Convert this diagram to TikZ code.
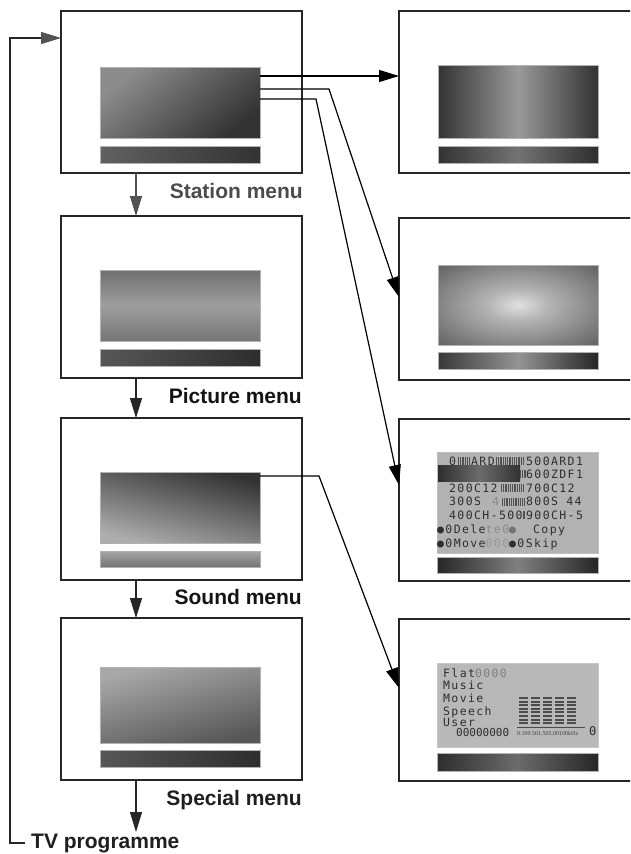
\documentclass[tikz,border=0pt]{standalone}
\usepackage{fontspec}
\setmainfont{Liberation Sans}
\newfontfamily\lcdfont[LetterSpace=12]{DejaVu Sans Mono}
\newfontfamily\lcdplain{DejaVu Sans Mono}
\newfontfamily\tinyserif{Liberation Serif}
\usetikzlibrary{arrows.meta,calc}
\pgfdeclareradialshading{glow}{\pgfpoint{0bp}{0bp}}{color(0bp)=(black!12); color(10bp)=(black!30); color(50bp)=(black!80)}
\newcommand\lcdstripes[3]{\foreach \k in {0,...,#2} \fill[black!68] ({#1+1.8*\k},#3) rectangle ++(0.9,-8);}
\begin{document}
\begin{tikzpicture}[x=1pt,y=-1pt,
  box/.style={draw=black!85, line width=1.4pt, fill=white, minimum width=241pt, minimum height=162pt, inner sep=0pt, outer sep=0pt, anchor=north west},
  rbox/.style={box, minimum width=260pt},
  scr/.style={draw=black!30, line width=0.5pt, minimum width=160pt, inner sep=0pt, outer sep=0pt, anchor=north west},
  lbl/.style={font=\bfseries\fontsize{21}{24}\selectfont, inner sep=0pt, anchor=base east},
  conn/.style={draw=black, line width=1.2pt, -{Triangle[length=20pt,width=12pt]}},
  varrow/.style={draw=black!85, line width=1.2pt, -{Triangle[length=20pt,width=12pt]}},
  lcd/.style={font=\lcdfont\fontsize{11.5}{12}\selectfont, text=black!82, inner sep=0pt, anchor=base west},
  lcdl/.style={lcd, text=black!45}
]
\clip (0,0) rectangle (630,854);
\fill[white] (0,0) rectangle (630,854);

% ---------- left column ----------
\node[box] (b1) at (61,11) {};
\node[box] (b2) at (61,216) {};
\node[box] (b3) at (61,418) {};
\node[box] (b4) at (61,618) {};

\node[scr, minimum height=71pt, top color=black!45, bottom color=black!80, shading angle=40] (s1) at (100,67) {};
\node[scr, minimum height=17pt, left color=black!62, right color=black!80] (t1) at (100,146) {};
\node[scr, minimum height=71pt, top color=black!56, bottom color=black!54, middle color=black!38] (s2) at (100,270) {};
\node[scr, minimum height=17pt, left color=black!66, right color=black!82] (t2) at (100,349) {};
\node[scr, minimum height=71pt, top color=black!80, bottom color=black!32, shading angle=-15] (s3) at (100,472) {};
\node[scr, minimum height=16pt, top color=black!35, bottom color=black!55] (t3) at (100,551) {};
\node[scr, minimum height=76pt, top color=black!34, bottom color=black!66, shading angle=15] (s4) at (100,667) {};
\node[scr, minimum height=17pt, left color=black!66, right color=black!82] (t4) at (100,750) {};

\node[lbl, text=black!70] (l1) at (303,198) {Station menu};
\node[lbl, text=black!92] (l2) at (302,403) {Picture menu};
\node[lbl, text=black!92] (l3) at (302,604) {Sound menu};
\node[lbl, text=black!88] (l4) at (302,805) {Special menu};
\node[font=\bfseries\fontsize{21}{24}\selectfont, inner sep=0pt, anchor=base west, text=black!88] (tv) at (31,848) {TV programme};

\coordinate (ax) at (136,0);
\coordinate (tvtop) at (136,832);
\draw[varrow, draw=black!68] (b1.south -| ax) -- (b2.north -| ax);
\draw[varrow] (b2.south -| ax) -- (b3.north -| ax);
\draw[varrow] (b3.south -| ax) -- (b4.north -| ax);
\draw[varrow] (b4.south -| ax) -- (tvtop);

\coordinate (fbx) at (10,38);
\draw[draw=black!85, line width=1.2pt, -{Triangle[length=20pt,width=12pt,color=black!68]}]
  ($(tv.west)+(-6,0)$) -| (fbx) -- (b1.west |- fbx);

% ---------- right column ----------
\node[rbox] (r1) at (399,11) {};
\node[rbox] (r2) at (399,218) {};
\node[rbox] (r3) at (399,419) {};
\node[rbox] (r4) at (399,619) {};

\node[scr, minimum height=73pt, left color=black!80, right color=black!80, middle color=black!40] (q1) at (438,65) {};
\node[scr, minimum height=17pt, left color=black!80, right color=black!82, middle color=black!55] (u1) at (438,146) {};
\node[scr, minimum height=80pt, shading=glow] (q2) at (438,265) {};
\node[scr, minimum height=17pt, left color=black!78, right color=black!85, middle color=black!42] (u2) at (438,352) {};

\node[scr, minimum width=161pt, minimum height=101pt, fill=black!30, draw=black!25] (q3) at (437,452) {};
\node[scr, minimum width=161pt, minimum height=16pt, left color=black!85, right color=black!85, middle color=black!50] (u3) at (437,557) {};
\node[scr, minimum width=161pt, minimum height=84pt, fill=black!28, draw=black!22] (q4) at (437,663) {};
\node[scr, minimum width=161pt, minimum height=18pt, left color=black!82, right color=black!85, middle color=black!58] (u4) at (437,753) {};

% station list LCD
\node[lcd] at (449,465) {0};
\lcdstripes{458}{6}{465}
\node[lcd] at (471,465) {ARD};
\lcdstripes{496}{15}{465}
\node[lcd] at (526,465) {500ARD1};

\shade[left color=black!82, right color=black!80, middle color=black!58] (438,465) rectangle (520,481);
\lcdstripes{520}{3}{478}
\node[lcd] at (526,478) {600ZDF1};

\node[lcd] at (449,492) {200C12};
\lcdstripes{501}{12}{492}
\node[lcd] at (526,492) {700C12};

\node[lcd] at (449,505.5) {300S};
\node[lcdl] at (492,505.5) {4};
\lcdstripes{502}{12}{505.5}
\node[lcd] at (526,505.5) {800S 44};

\node[lcd] at (449,519) {400CH-500};
\lcdstripes{522.5}{1}{519}
\node[lcd] at (526,519) {900CH-5};

\node[lcd] (del) at (437,533) {●0Dele\textcolor{black!45}{te0}\textcolor{black!55}{●}};
\node[lcd] at (533,533) {Copy};
\node[lcd] (mov) at (437,547) {●0Move\textcolor{black!40}{000}●0Skip};

% sound LCD
\node[lcd] at (443,677) {Flat\textcolor{black!50}{0000}};
\node[lcd] at (443,689.5) {Music};
\node[lcd] at (443,702) {Movie};
\node[lcd] at (443,715) {Speech};
\node[lcd] at (443,726.5) {User};
\node[lcd, font=\lcdplain\fontsize{11}{11}\selectfont] at (456,736) {00000000};
\node[inner sep=0pt, anchor=base west, font=\tinyserif\fontsize{6}{6}\selectfont, text=black!75] (khz) at (517,735) {0.100.501.505.00100kHz};
\draw[black!70, line width=0.5pt] (517,727.5) -- (585,727.5);
\node[lcd, font=\lcdplain\fontsize{12}{12}\selectfont] at (589,735.5) {0};
\foreach \x in {519,531,543,555,567}
  \foreach \k in {0,...,7}
    \fill[black!70] (\x,{697+3.6*\k}) rectangle ++(9,2);

% ---------- connectors ----------
\coordinate (p1) at ($(s1.north east)+(0,9)$);
\coordinate (p2) at ($(s1.north east)+(0,22)$);
\coordinate (p3) at ($(s1.north east)+(0,32)$);
\coordinate (p4) at ($(s3.north east)+(0,4)$);
\draw[conn] (p1) -- (p1 -| r1.west);
\draw[conn] (p2) -- ++(69,0) -- ($(r2.west)+(0,-2)$);
\draw[conn] (p3) -- ++(56,0) -- ($(r3.west)+(0,-15)$);
\draw[conn] (p4) -- ++(59,0) -- ($(r4.west)+(0,-12)$);
\end{tikzpicture}
\end{document}
